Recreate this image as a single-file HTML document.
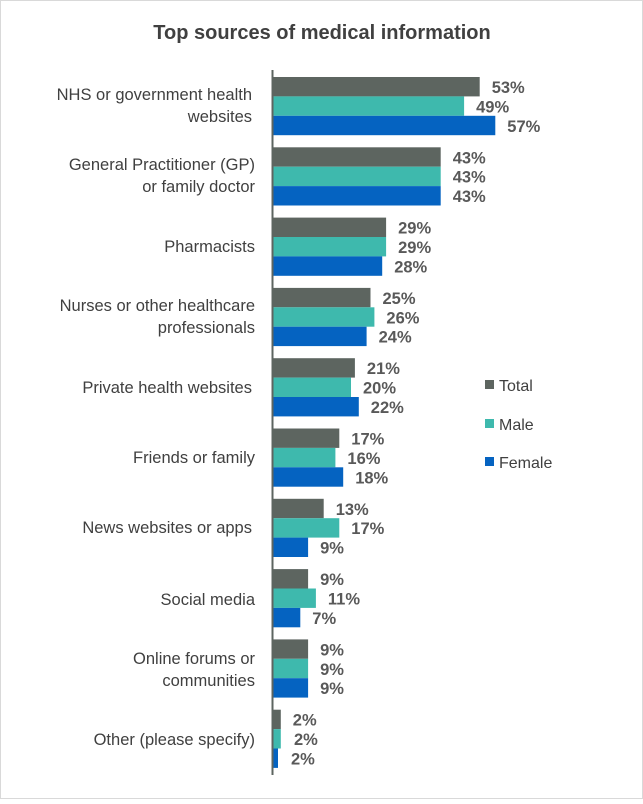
<!DOCTYPE html>
<html><head><style>body{margin:0;background:#fff}</style></head><body>
<svg width="643" height="799" xmlns="http://www.w3.org/2000/svg" font-family="'Liberation Sans', sans-serif">
<rect x="0.5" y="0.5" width="642" height="798" fill="#fff" stroke="#d9d9d9"/>
<text x="322" y="39" text-anchor="middle" font-size="20" font-weight="bold" fill="#404040">Top sources of medical information</text>
<g font-size="16.5" fill="#404040" text-anchor="end">
<text x="252" y="100">NHS or government health</text><text x="252" y="122">websites</text>
<text x="255" y="170">General Practitioner (GP)</text><text x="255" y="192">or family doctor</text>
<text x="255" y="252">Pharmacists</text>
<text x="255" y="311">Nurses or other healthcare</text><text x="255" y="333">professionals</text>
<text x="252" y="393">Private health websites</text>
<text x="255" y="463">Friends or family</text>
<text x="252" y="533">News websites or apps</text>
<text x="255" y="605">Social media</text>
<text x="255" y="664">Online forums or</text><text x="255" y="686">communities</text>
<text x="255" y="745">Other (please specify)</text>
</g>
<g>
<rect x="273" y="77" width="206.7" height="19.4" fill="#5d6560"/>
<rect x="273" y="96.4" width="191.1" height="19.4" fill="#3eb9ad"/>
<rect x="273" y="115.8" width="222.3" height="19.4" fill="#0563c1"/>
<rect x="273" y="147.3" width="167.7" height="19.4" fill="#5d6560"/>
<rect x="273" y="166.7" width="167.7" height="19.4" fill="#3eb9ad"/>
<rect x="273" y="186.1" width="167.7" height="19.4" fill="#0563c1"/>
<rect x="273" y="217.6" width="113.1" height="19.4" fill="#5d6560"/>
<rect x="273" y="237" width="113.1" height="19.4" fill="#3eb9ad"/>
<rect x="273" y="256.4" width="109.2" height="19.4" fill="#0563c1"/>
<rect x="273" y="287.9" width="97.5" height="19.4" fill="#5d6560"/>
<rect x="273" y="307.3" width="101.4" height="19.4" fill="#3eb9ad"/>
<rect x="273" y="326.7" width="93.6" height="19.4" fill="#0563c1"/>
<rect x="273" y="358.2" width="81.9" height="19.4" fill="#5d6560"/>
<rect x="273" y="377.6" width="78" height="19.4" fill="#3eb9ad"/>
<rect x="273" y="397" width="85.8" height="19.4" fill="#0563c1"/>
<rect x="273" y="428.5" width="66.3" height="19.4" fill="#5d6560"/>
<rect x="273" y="447.9" width="62.4" height="19.4" fill="#3eb9ad"/>
<rect x="273" y="467.3" width="70.2" height="19.4" fill="#0563c1"/>
<rect x="273" y="498.8" width="50.7" height="19.4" fill="#5d6560"/>
<rect x="273" y="518.2" width="66.3" height="19.4" fill="#3eb9ad"/>
<rect x="273" y="537.6" width="35.1" height="19.4" fill="#0563c1"/>
<rect x="273" y="569.1" width="35.1" height="19.4" fill="#5d6560"/>
<rect x="273" y="588.5" width="42.9" height="19.4" fill="#3eb9ad"/>
<rect x="273" y="607.9" width="27.3" height="19.4" fill="#0563c1"/>
<rect x="273" y="639.4" width="35.1" height="19.4" fill="#5d6560"/>
<rect x="273" y="658.8" width="35.1" height="19.4" fill="#3eb9ad"/>
<rect x="273" y="678.2" width="35.1" height="19.4" fill="#0563c1"/>
<rect x="273" y="709.7" width="7.8" height="19.4" fill="#5d6560"/>
<rect x="273" y="729.1" width="7.8" height="19.4" fill="#3eb9ad"/>
<rect x="273" y="748.5" width="5" height="19.4" fill="#0563c1"/>
</g>
<g font-size="16.5" font-weight="bold" fill="#595959">
<text x="491.7" y="93">53%</text><text x="476.1" y="112.4">49%</text><text x="507.3" y="131.8">57%</text>
<text x="452.7" y="163.3">43%</text><text x="452.7" y="182.7">43%</text><text x="452.7" y="202.1">43%</text>
<text x="398.1" y="233.6">29%</text><text x="398.1" y="253">29%</text><text x="394.2" y="272.4">28%</text>
<text x="382.5" y="303.9">25%</text><text x="386.4" y="323.3">26%</text><text x="378.6" y="342.7">24%</text>
<text x="366.9" y="374.2">21%</text><text x="363" y="393.6">20%</text><text x="370.8" y="413">22%</text>
<text x="351.3" y="444.5">17%</text><text x="347.4" y="463.9">16%</text><text x="355.2" y="483.3">18%</text>
<text x="335.7" y="514.8">13%</text><text x="351.3" y="534.2">17%</text><text x="320.1" y="553.6">9%</text>
<text x="320.1" y="585.1">9%</text><text x="327.9" y="604.5">11%</text><text x="312.3" y="623.9">7%</text>
<text x="320.1" y="655.4">9%</text><text x="320.1" y="674.8">9%</text><text x="320.1" y="694.2">9%</text>
<text x="292.8" y="725.7">2%</text><text x="294" y="745.1">2%</text><text x="291" y="764.5">2%</text>
</g>
<line x1="272.5" y1="70" x2="272.5" y2="775" stroke="#5d6560" stroke-width="2"/>
<g font-size="16" fill="#404040">
<rect x="485" y="380" width="9" height="9" fill="#5d6560"/><text x="499" y="391">Total</text>
<rect x="485" y="419" width="9" height="9" fill="#3eb9ad"/><text x="499" y="430">Male</text>
<rect x="485" y="457" width="9" height="9" fill="#0563c1"/><text x="499" y="468">Female</text>
</g>
</svg>
</body></html>
